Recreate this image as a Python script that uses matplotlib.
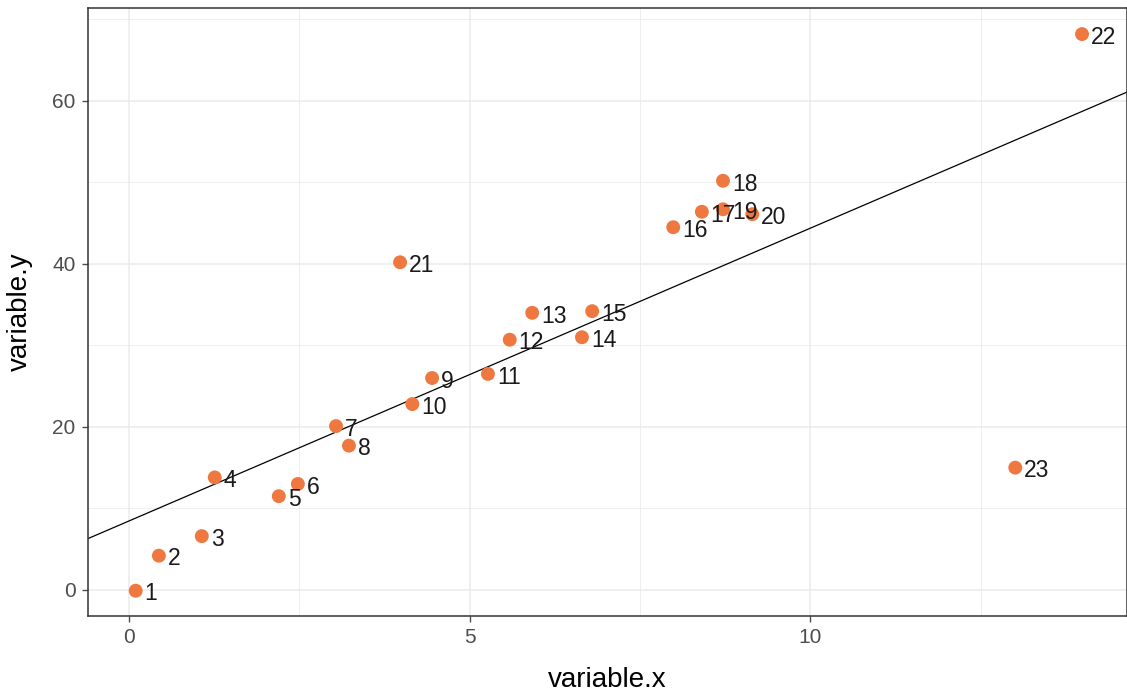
import matplotlib.pyplot as plt
import numpy as np

plt.rcParams['font.family'] = ['Liberation Sans', 'DejaVu Sans']

# data
ids = list(range(1, 24))
variable_x = [0.10, 0.44, 1.07, 1.26, 2.20, 2.48, 3.04, 3.23, 4.45, 4.16,
              5.27, 5.59, 5.92, 6.65, 6.80, 7.99, 8.41, 8.72, 8.72, 9.15,
              3.98, 13.99, 13.01]
variable_y = [-0.1, 4.2, 6.6, 13.8, 11.5, 13.0, 20.1, 17.7, 26.0, 22.8,
              26.5, 30.7, 34.0, 31.0, 34.2, 44.5, 46.4, 50.2, 46.7, 46.1,
              40.2, 68.2, 15.0]

x = np.array(variable_x)
y = np.array(variable_y)
slope, intercept = np.polyfit(x, y, 1)

fig = plt.figure(figsize=(11.27, 6.95), dpi=100)
ax = fig.add_axes([0.0781, 0.1137, 0.9219, 0.8748])

xlim = (-0.6, 14.65)
ylim = (-3.2, 71.4)
ax.set_xlim(xlim)
ax.set_ylim(ylim)

# grid like theme_bw
for v in [0, 5, 10]:
    ax.axvline(v, color='#ebebeb', lw=1.1, zorder=0)
for v in [2.5, 7.5, 12.5]:
    ax.axvline(v, color='#ebebeb', lw=0.6, zorder=0)
for v in [0, 20, 40, 60]:
    ax.axhline(v, color='#ebebeb', lw=1.1, zorder=0)
for v in [10, 30, 50, 70]:
    ax.axhline(v, color='#ebebeb', lw=0.6, zorder=0)

xs = np.array(xlim)
ax.plot(xs, intercept + slope * xs, color='black', lw=0.9, zorder=2)

ax.scatter(x, y, s=100, color='#EE7840', edgecolors='none', zorder=3)
for i, xi, yi in zip(ids, x, y):
    ax.text(xi + 0.13, yi - 0.4, str(i), fontsize=16.5, color='#1a1a1a',
            ha='left', va='center', zorder=4)

ax.set_xticks([0, 5, 10])
ax.set_yticks([0, 20, 40, 60])
ax.tick_params(colors='#4d4d4d', labelsize=15, length=4, width=1, pad=5)
for s in ax.spines.values():
    s.set_color('#333333')
    s.set_linewidth(1.1)

ax.set_xlabel('variable.x', fontsize=20, color='black', labelpad=14)
ax.set_ylabel('variable.y', fontsize=20, color='black', labelpad=14)

fig.savefig('out.png', dpi=100)
